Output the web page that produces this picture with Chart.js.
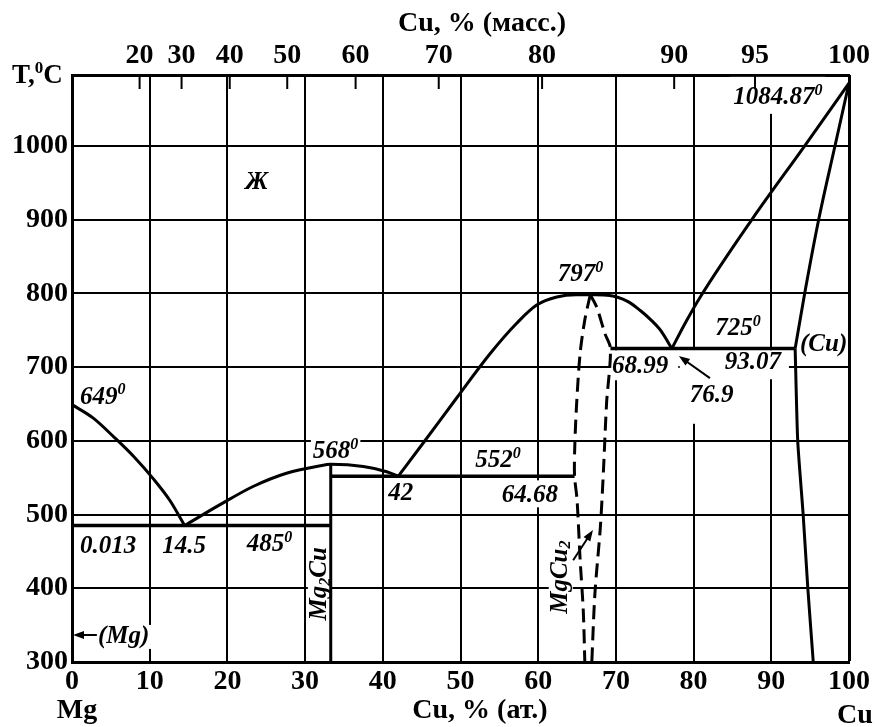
<!DOCTYPE html>
<html>
<head>
<meta charset="utf-8">
<script src="https://cdn.jsdelivr.net/npm/chart.js@4.4.1/dist/chart.umd.min.js"></script>
<style>
  html, body { margin: 0; padding: 0; background: #fff; }
</style>
</head>
<body>
<canvas id="phase" width="877" height="727"></canvas>
<script>
// Mg-Cu phase diagram: x = Cu, at.%, y = temperature, deg C

// axis ticks
const tempTicks = [300, 400, 500, 600, 700, 800, 900, 1000];
// upper axis: Cu mass % and where those values sit on the at.% scale
const massTicks = [20, 30, 40, 50, 60, 70, 80, 90, 95, 100];
const massTickAt = [8.7, 14.1, 20.3, 27.7, 36.5, 47.2, 60.5, 77.5, 87.9, 100];

// liquidus, Mg side down to the 485 eutectic
const liqMgX = [0, 2.7, 5.5, 8, 10.5, 12.6, 14.5];
const liqMgT = [649, 631, 604, 578, 548, 519, 485];
// liquidus over Mg2Cu (568 max) down to the 552 eutectic
const liqMg2CuX = [14.5, 19, 23.3, 27.6, 31.9, 33.3, 37.5, 40.5, 42];
const liqMg2CuT = [485, 513, 538, 556, 566, 568, 565, 558, 552];
// liquidus up to the MgCu2 maximum (797) and down to the 725 eutectic
const liqMgCu2LX = [42, 45.2, 49.5, 53.8, 57.2, 59.8, 62.4, 64.9, 66.7];
const liqMgCu2LT = [552, 597, 658, 718, 759, 784, 795, 798, 798];
const liqMgCu2RX = [66.7, 69.2, 71.5, 73.1, 74.5, 75.8, 77.2];
const liqMgCu2RT = [798, 797, 789, 777, 764, 749, 725];
// liquidus up to Cu melting point
const liqCuX = [77.2, 79, 80.8, 87.5, 94.3, 100];
const liqCuT = [725, 761, 794, 900, 1000, 1084.87];
// (Cu) solidus and solvus
const solCuX = [93.07, 94.3, 96.1, 98.2, 100];
const solCuT = [725, 800, 900, 1000, 1084.87];
const solvCuX = [93.07, 93.4, 94.1, 94.7, 95.4];
const solvCuT = [725, 600, 500, 400, 300];
// MgCu2 homogeneity range (dashed)
const mgcu2LX = [66.7, 66.0, 65.4, 64.95, 64.7, 64.68, 65.0, 65.4, 65.8, 66.0];
const mgcu2LT = [798, 764, 719, 651, 590, 552, 520, 438, 370, 300];
const mgcu2RX = [66.7, 67.5, 68.6, 69.3, 68.8, 68.4, 68.0, 67.3, 66.9];
const mgcu2RT = [798, 782, 745, 725, 651, 560, 483, 393, 300];
// Mg2Cu line compound
const mg2cuX = [33.3, 33.3];
const mg2cuT = [568, 300];
// eutectic horizontals
const eut485X = [0, 33.3];
const eut485T = [485, 485];
const eut552X = [33.3, 64.68];
const eut552T = [552, 552];
const eut725X = [69.3, 93.07];
const eut725T = [725, 725];

const SERIF = '"Liberation Serif", "Times New Roman", serif';

const pts = (xs, ts) => xs.map((x, i) => ({ x: x, y: ts[i] }));
function line(xs, ts, extra) {
    return Object.assign({
        data: pts(xs, ts), showLine: true, borderColor: '#000', borderWidth: 3,
        pointRadius: 0, tension: 0, fill: false, clip: false
    }, extra || {});
}
const smooth = { cubicInterpolationMode: 'monotone' };

// annotations: text with ^x superscript / _x subscript, anchored (left, middle) in data units
// pad = white box around the text [left, top, right, bottom] in px
const notes = [
    { t: '649^0', x: 1.03, y: 659 },
    { t: '568^0', x: 31.0, y: 585 },
    { t: '42', x: 40.7, y: 529 },
    { t: '552^0', x: 51.9, y: 573 },
    { t: '64.68', x: 55.3, y: 526, pad: [4, 5, 4, 2] },
    { t: '797^0', x: 62.5, y: 825 },
    { t: '725^0', x: 82.8, y: 752 },
    { t: '(Cu)', x: 93.7, y: 731, pad: [2, 2, 0, 2] },
    { t: '68.99', x: 69.5, y: 701, pad: [2, 6, 10, 4] },
    { t: '93.07', x: 84.0, y: 706.5, pad: [5, 2, 8, 7] },
    { t: '76.9', x: 79.5, y: 661, pad: [10, 36, 7, 18] },
    { t: '1084.87^0', x: 85.1, y: 1065, pad: [3, 11, 3, 6] },
    { t: '\u0416', x: 22.3, y: 950 },
    { t: '0.013', x: 1.03, y: 456 },
    { t: '14.5', x: 11.6, y: 457 },
    { t: '485^0', x: 22.5, y: 459, pad: [2, 2, 0, 2] },
    { t: '(Mg)', x: 3.35, y: 334 },
    { t: 'Mg_2Cu', x: 31.9, y: 406, rot: true },
    { t: 'MgCu_2', x: 62.9, y: 415, rot: true }
];
const arrows = [
    { from: [3.2, 336.6], to: [0.13, 336.6] },
    { from: [64.5, 438], to: [67.05, 479] },
    { from: [82.1, 685], to: [78.1, 715] }
];

function splitRich(str) {
    const out = [];
    for (let i = 0; i < str.length; i++) {
        const c = str[i];
        if ((c === '^' || c === '_') && i + 1 < str.length) {
            out.push({ s: str[i + 1], k: c === '^' ? 'sup' : 'sub' });
            i++;
        } else if (out.length && out[out.length - 1].k === 'n') {
            out[out.length - 1].s += c;
        } else {
            out.push({ s: c, k: 'n' });
        }
    }
    return out;
}
function fontOf(style, size) { return style + ' ' + size + 'px ' + SERIF; }
function richWidth(ctx, str, size, style) {
    let w = 0;
    splitRich(str).forEach(p => {
        ctx.font = fontOf(style, p.k === 'n' ? size : Math.round(size * 0.62));
        w += ctx.measureText(p.s).width;
    });
    return w;
}
function drawRich(ctx, str, x, y, size, style, align) {
    const w = richWidth(ctx, str, size, style);
    let cx = align === 'center' ? x - w / 2 : x;
    ctx.textAlign = 'left';
    ctx.textBaseline = 'middle';
    ctx.fillStyle = '#000';
    splitRich(str).forEach(p => {
        const s = p.k === 'n' ? size : Math.round(size * 0.62);
        ctx.font = fontOf(style, s);
        const dy = p.k === 'sup' ? -size * 0.28 : p.k === 'sub' ? size * 0.22 : 0;
        ctx.fillText(p.s, cx, y + dy);
        cx += ctx.measureText(p.s).width;
    });
}

const NOTE_SIZE = 25;
const NOTE_STYLE = 'italic bold';

const notesPlugin = {
    id: 'notes',
    beforeDraw(chart) {
        const c = chart.ctx;
        c.save();
        c.fillStyle = '#fff';
        c.fillRect(0, 0, chart.width, chart.height);
        c.restore();
    },
    beforeDatasetsDraw(chart) {
        // white boxes behind the labels break the grid, as in the printed diagram
        const c = chart.ctx, xs = chart.scales.x, ys = chart.scales.y;
        c.save();
        c.fillStyle = '#fff';
        notes.forEach(n => {
            const pad = n.pad || [2, 2, 2, 2];
            const w = richWidth(c, n.t, NOTE_SIZE, NOTE_STYLE);
            const h = NOTE_SIZE * 0.8;
            const px = xs.getPixelForValue(n.x), py = ys.getPixelForValue(n.y);
            if (n.rot) {
                c.save();
                c.translate(px, py);
                c.rotate(-Math.PI / 2);
                c.fillRect(-w / 2 - pad[0], -h / 2 - pad[1], w + pad[0] + pad[2], h + pad[1] + pad[3]);
                c.restore();
            } else {
                c.fillRect(px - pad[0], py - h / 2 - pad[1], w + pad[0] + pad[2], h + pad[1] + pad[3]);
            }
        });
        c.restore();
    },
    afterDatasetsDraw(chart) {
        const c = chart.ctx, xs = chart.scales.x, ys = chart.scales.y, top = chart.scales.xTop;
        const area = chart.chartArea;
        c.save();
        notes.forEach(n => {
            const px = xs.getPixelForValue(n.x), py = ys.getPixelForValue(n.y);
            if (n.rot) {
                c.save();
                c.translate(px, py);
                c.rotate(-Math.PI / 2);
                drawRich(c, n.t, 0, 0, NOTE_SIZE, NOTE_STYLE, 'center');
                c.restore();
            } else {
                drawRich(c, n.t, px, py, NOTE_SIZE, NOTE_STYLE, 'left');
            }
        });

        // arrows
        c.strokeStyle = '#000';
        c.fillStyle = '#000';
        c.lineWidth = 2;
        arrows.forEach(a => {
            const x1 = xs.getPixelForValue(a.from[0]), y1 = ys.getPixelForValue(a.from[1]);
            const x2 = xs.getPixelForValue(a.to[0]), y2 = ys.getPixelForValue(a.to[1]);
            const ang = Math.atan2(y2 - y1, x2 - x1);
            c.beginPath();
            c.moveTo(x1, y1);
            c.lineTo(x2 - 6 * Math.cos(ang), y2 - 6 * Math.sin(ang));
            c.stroke();
            c.beginPath();
            c.moveTo(x2, y2);
            c.lineTo(x2 - 11 * Math.cos(ang) + 4 * Math.sin(ang), y2 - 11 * Math.sin(ang) - 4 * Math.cos(ang));
            c.lineTo(x2 - 11 * Math.cos(ang) - 4 * Math.sin(ang), y2 - 11 * Math.sin(ang) + 4 * Math.cos(ang));
            c.closePath();
            c.fill();
        });

        // inward tick marks of the mass % scale
        c.lineWidth = 2;
        massTickAt.forEach(v => {
            if (v >= 100) return;
            const px = top.getPixelForValue(v);
            c.beginPath();
            c.moveTo(px, area.top);
            c.lineTo(px, area.top + 14);
            c.stroke();
        });
        c.restore();
    },
    afterDraw(chart) {
        const c = chart.ctx;
        c.save();
        drawRich(c, 'T,^0C', 12, 76, 27, 'bold', 'left');
        drawRich(c, 'Cu, % (\u043c\u0430\u0441\u0441.)', 482, 24, 28, 'bold', 'center');
        drawRich(c, 'Mg', 77, 711, 28, 'bold', 'center');
        drawRich(c, 'Cu, % (\u0430\u0442.)', 480, 711, 28, 'bold', 'center');
        drawRich(c, 'Cu', 855, 716, 28, 'bold', 'center');
        c.restore();
    }
};

const tickFont = { family: SERIF, weight: 'bold', size: 28 };

new Chart(document.getElementById('phase'), {
    type: 'scatter',
    data: {
        datasets: [
            line(liqMgX, liqMgT, smooth),
            line(liqMg2CuX, liqMg2CuT, smooth),
            line(liqMgCu2LX, liqMgCu2LT, smooth),
            line(liqMgCu2RX, liqMgCu2RT, smooth),
            line(liqCuX, liqCuT, smooth),
            line(solCuX, solCuT, smooth),
            line(solvCuX, solvCuT, { tension: 0.2 }),
            line(mgcu2LX, mgcu2LT, { tension: 0.3, borderDash: [14, 7] }),
            line(mgcu2RX, mgcu2RT, { tension: 0.3, borderDash: [14, 7] }),
            line(mg2cuX, mg2cuT),
            line(eut485X, eut485T, { borderWidth: 3.5 }),
            line(eut552X, eut552T, { borderWidth: 3.5 }),
            line(eut725X, eut725T, { borderWidth: 3.5 })
        ]
    },
    options: {
        responsive: false,
        animation: false,
        events: [],
        layout: { padding: { left: 0, right: 28, top: 0, bottom: 0 } },
        plugins: { legend: { display: false }, tooltip: { enabled: false } },
        scales: {
            x: {
                type: 'linear', position: 'bottom', min: 0, max: 100,
                afterFit(scale) { scale.height = 65; },
                ticks: { stepSize: 10, color: '#000', font: tickFont, padding: 3, maxRotation: 0 },
                grid: { color: '#000', lineWidth: ctx => (ctx.tick && ctx.tick.value === 100 ? 3 : 2), drawTicks: false },
                border: { color: '#000', width: 3 }
            },
            xTop: {
                type: 'linear', position: 'top', min: 0, max: 100,
                afterFit(scale) { scale.height = 75; },
                afterBuildTicks(scale) { scale.ticks = massTickAt.map(v => ({ value: v })); },
                ticks: {
                    color: '#000', font: tickFont, padding: 2, autoSkip: false, maxRotation: 0,
                    callback: (v, i) => massTicks[i]
                },
                grid: { display: false, drawTicks: false },
                border: { display: true, color: '#000', width: 3 }
            },
            y: {
                type: 'linear', min: 300, max: 1096,
                afterFit(scale) { scale.width = 72; },
                afterBuildTicks(scale) { scale.ticks = tempTicks.map(v => ({ value: v })); },
                ticks: { color: '#000', font: tickFont, padding: 4, autoSkip: false, callback: v => String(v) },
                grid: { color: '#000', lineWidth: 2, drawTicks: false },
                border: { color: '#000', width: 3 }
            }
        }
    },
    plugins: [notesPlugin]
});
</script>
</body>
</html>
